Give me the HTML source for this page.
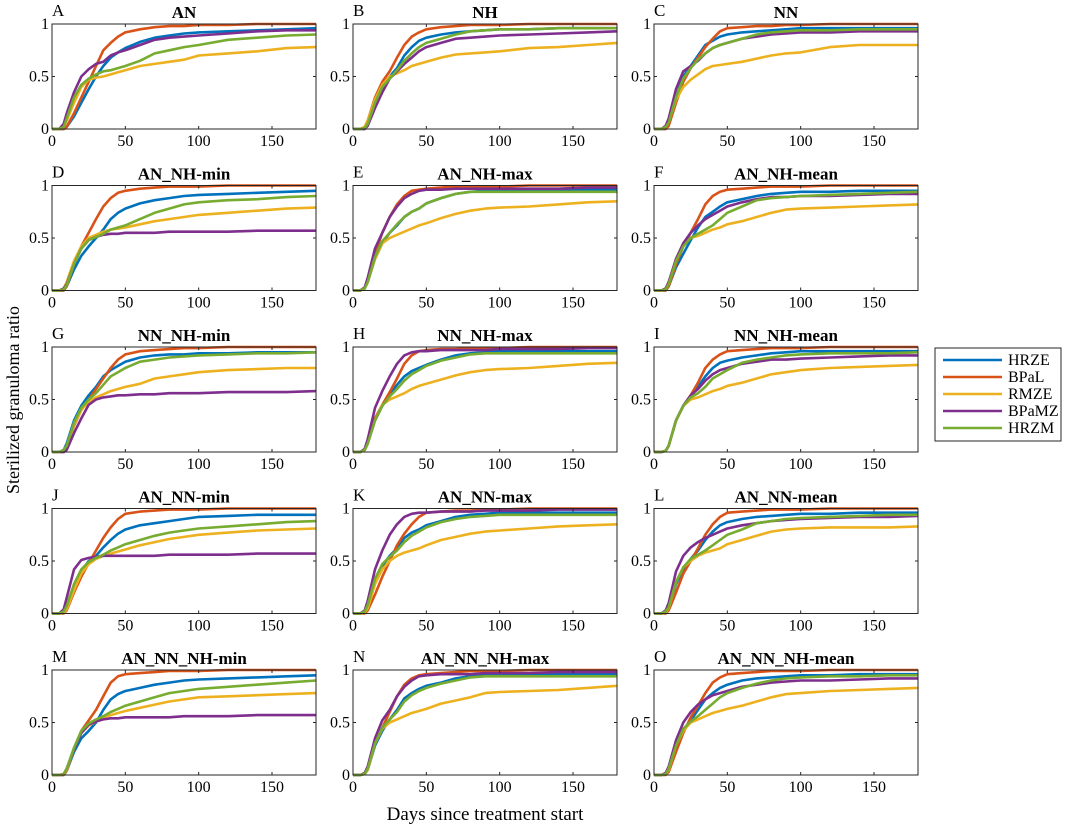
<!DOCTYPE html>
<html><head><meta charset="utf-8">
<style>
html,body{margin:0;padding:0;background:#fff;}
svg{display:block;font-family:"Liberation Serif",serif;}
</style></head>
<body>
<svg id="chart" width="1065" height="826" viewBox="0 0 1065 826" xmlns="http://www.w3.org/2000/svg">
<text x="19" y="400" font-size="18" text-anchor="middle" transform="rotate(-90 19 400)">Sterilized granuloma ratio</text>
<text x="485" y="820" font-size="19" text-anchor="middle">Days since treatment start</text>
</svg>
<script>
const days = [0,5,8,10,15,20,25,30,35,40,45,50,60,70,80,90,100,120,140,160,180];
const seriesNames = ["HRZE","BPaL","RMZE","BPaMZ","HRZM"];
const panelLetters = ["A","B","C","D","E","F","G","H","I","J","K","L","M","N","O"];
const panelTitles = ["AN","NH","NN","AN_NH-min","AN_NH-max","AN_NH-mean","NN_NH-min","NN_NH-max","NN_NH-mean","AN_NN-min","AN_NN-max","AN_NN-mean","AN_NN_NH-min","AN_NN_NH-max","AN_NN_NH-mean"];
const xTicks = [0,50,100,150];
const yTicks = [0,0.5,1];
const yTickLabels = ["0","0.5","1"];

const A_HRZE=[0,0,0,.02,.12,.25,.38,.5,.6,.68,.73,.77,.83,.87,.89,.91,.92,.93,.94,.95,.96];
const A_BPaL=[0,0,0,.02,.15,.3,.45,.6,.75,.82,.88,.92,.95,.97,.98,.98,.99,.99,1,1,1];
const A_RMZE=[0,0,.02,.08,.25,.4,.47,.49,.5,.52,.54,.56,.6,.62,.64,.66,.7,.72,.74,.77,.78];
const A_BPaMZ=[0,0,.05,.15,.35,.5,.57,.62,.64,.7,.73,.75,.8,.85,.87,.88,.89,.91,.93,.94,.94];
const A_HRZM=[0,0,.02,.1,.3,.42,.48,.52,.55,.56,.58,.6,.65,.72,.75,.78,.8,.85,.87,.89,.9];
const B_HRZE=[0,0,0,.05,.25,.4,.5,.58,.7,.78,.84,.87,.9,.92,.93,.94,.95,.95,.96,.96,.96];
const B_BPaL=[0,0,.02,.08,.3,.45,.55,.68,.8,.88,.92,.95,.97,.98,.99,.99,.99,1,1,1,1];
const B_RMZE=[0,0,.02,.08,.28,.42,.5,.53,.56,.6,.62,.64,.68,.71,.72,.73,.74,.77,.78,.8,.82];
const B_BPaMZ=[0,0,0,.03,.2,.35,.48,.55,.62,.68,.74,.78,.82,.86,.87,.88,.89,.9,.91,.92,.93];
const B_HRZM=[0,0,.01,.05,.25,.4,.48,.56,.65,.72,.78,.82,.86,.9,.93,.94,.95,.95,.96,.96,.96];
const C_HRZE=[0,0,0,.05,.3,.5,.6,.7,.8,.84,.88,.9,.92,.93,.94,.95,.96,.96,.96,.96,.96];
const C_BPaL=[0,0,0,.03,.25,.45,.58,.68,.78,.86,.93,.96,.97,.98,.98,.99,.99,1,1,1,1];
const C_RMZE=[0,0,.02,.07,.28,.4,.47,.52,.57,.6,.61,.62,.64,.67,.7,.72,.73,.78,.8,.8,.8];
const C_BPaMZ=[0,0,.03,.1,.38,.55,.6,.65,.72,.77,.8,.82,.86,.88,.9,.91,.92,.92,.93,.93,.93];
const C_HRZM=[0,0,.02,.06,.3,.48,.58,.66,.72,.77,.8,.82,.86,.9,.92,.93,.94,.94,.95,.95,.95];
const D_HRZE=[0,0,0,.04,.2,.33,.42,.5,.58,.68,.74,.78,.83,.86,.88,.9,.91,.92,.93,.94,.95];
const D_BPaL=[0,0,0,.04,.25,.42,.55,.68,.8,.88,.93,.95,.97,.98,.99,.99,.99,1,1,1,1];
const D_RMZE=[0,0,.02,.08,.28,.42,.5,.53,.56,.58,.59,.6,.63,.66,.68,.7,.72,.74,.76,.78,.79];
const D_BPaMZ=[0,0,.02,.06,.25,.4,.48,.51,.53,.54,.54,.55,.55,.55,.56,.56,.56,.56,.57,.57,.57];
const D_HRZM=[0,0,.01,.05,.25,.4,.48,.51,.54,.58,.6,.62,.68,.74,.78,.82,.84,.86,.87,.89,.9];
const E_HRZE=[0,0,.02,.08,.3,.45,.55,.62,.7,.75,.78,.83,.88,.92,.94,.95,.95,.95,.95,.96,.96];
const E_BPaL=[0,0,.02,.1,.35,.55,.7,.82,.9,.95,.96,.97,.98,.99,.99,.99,.99,1,1,1,1];
const E_RMZE=[0,0,.02,.08,.3,.45,.5,.53,.56,.59,.62,.64,.69,.73,.76,.78,.79,.8,.82,.84,.85];
const E_BPaMZ=[0,0,.03,.12,.4,.55,.7,.8,.88,.92,.95,.96,.96,.97,.97,.97,.97,.97,.97,.98,.98];
const E_HRZM=[0,0,.02,.08,.32,.47,.55,.63,.7,.75,.78,.83,.88,.92,.94,.94,.94,.94,.94,.94,.94];
const F_HRZE=[0,0,0,.04,.22,.35,.48,.6,.7,.75,.8,.84,.87,.9,.92,.93,.94,.94,.95,.95,.95];
const F_BPaL=[0,0,0,.04,.25,.42,.55,.68,.82,.9,.94,.96,.97,.98,.99,.99,.99,1,1,1,1];
const F_RMZE=[0,0,.02,.08,.3,.45,.5,.52,.55,.58,.6,.63,.66,.7,.74,.77,.78,.79,.8,.81,.82];
const F_BPaMZ=[0,0,.02,.08,.3,.45,.55,.62,.68,.72,.76,.8,.84,.87,.89,.89,.9,.9,.91,.92,.92];
const F_HRZM=[0,0,.01,.06,.28,.42,.5,.54,.58,.62,.68,.74,.8,.86,.88,.89,.9,.91,.92,.93,.94];
const G_HRZE=[0,0,.02,.08,.3,.44,.54,.62,.72,.78,.82,.86,.9,.92,.93,.93,.94,.94,.95,.95,.95];
const G_BPaL=[0,0,0,.05,.25,.4,.5,.6,.7,.8,.88,.93,.96,.97,.98,.99,.99,1,1,1,1];
const G_RMZE=[0,0,.01,.05,.26,.4,.48,.52,.55,.58,.6,.62,.65,.7,.72,.74,.76,.78,.79,.8,.8];
const G_BPaMZ=[0,0,0,.02,.18,.32,.45,.5,.52,.53,.54,.54,.55,.55,.56,.56,.56,.57,.57,.57,.58];
const G_HRZM=[0,0,.02,.06,.28,.42,.5,.56,.64,.72,.76,.8,.86,.88,.9,.91,.92,.93,.94,.94,.95];
const H_HRZE=[0,0,.02,.08,.3,.44,.55,.64,.72,.77,.8,.83,.88,.92,.94,.95,.96,.96,.96,.96,.96];
const H_BPaL=[0,0,.02,.08,.32,.45,.57,.7,.84,.92,.96,.97,.98,.98,.99,.99,.99,1,1,1,1];
const H_RMZE=[0,0,.02,.08,.3,.45,.5,.53,.56,.6,.63,.65,.69,.73,.76,.78,.79,.8,.82,.84,.85];
const H_BPaMZ=[0,0,.03,.12,.42,.58,.72,.84,.92,.95,.96,.96,.97,.97,.97,.97,.98,.98,.98,.99,.99];
const H_HRZM=[0,0,.02,.08,.3,.44,.53,.6,.68,.74,.78,.82,.87,.9,.93,.94,.94,.94,.94,.94,.94];
const I_HRZE=[0,0,.01,.06,.3,.44,.53,.62,.72,.8,.85,.87,.9,.92,.94,.95,.96,.96,.96,.96,.96];
const I_BPaL=[0,0,.01,.06,.3,.44,.54,.66,.8,.88,.93,.96,.97,.98,.99,.99,.99,1,1,1,1];
const I_RMZE=[0,0,.01,.06,.3,.44,.5,.52,.55,.58,.6,.63,.66,.7,.74,.76,.78,.8,.81,.82,.83];
const I_BPaMZ=[0,0,.01,.06,.3,.44,.54,.6,.68,.74,.78,.8,.84,.86,.88,.88,.89,.9,.91,.92,.92];
const I_HRZM=[0,0,.01,.06,.3,.44,.52,.56,.62,.7,.74,.78,.85,.88,.9,.92,.93,.94,.94,.94,.95];
const J_HRZE=[0,0,.01,.05,.25,.4,.5,.55,.63,.7,.76,.8,.84,.86,.88,.9,.92,.93,.94,.94,.94];
const J_BPaL=[0,0,0,.03,.2,.35,.48,.6,.72,.82,.9,.95,.97,.98,.99,.99,.99,1,1,1,1];
const J_RMZE=[0,0,.01,.04,.22,.38,.47,.52,.55,.57,.59,.61,.65,.68,.71,.73,.75,.77,.79,.8,.81];
const J_BPaMZ=[0,0,.04,.15,.42,.51,.53,.54,.55,.55,.55,.55,.55,.55,.56,.56,.56,.56,.57,.57,.57];
const J_HRZM=[0,0,.02,.07,.28,.42,.49,.53,.56,.6,.63,.66,.7,.74,.77,.79,.81,.83,.85,.87,.88];
const K_HRZE=[0,0,.01,.06,.3,.45,.55,.62,.72,.77,.8,.84,.88,.92,.94,.95,.96,.96,.96,.96,.96];
const K_BPaL=[0,0,0,.03,.18,.35,.5,.65,.76,.85,.92,.96,.97,.98,.98,.99,.99,1,1,1,1];
const K_RMZE=[0,0,.01,.05,.28,.42,.5,.55,.58,.6,.62,.65,.7,.73,.76,.78,.79,.81,.83,.84,.85];
const K_BPaMZ=[0,0,.03,.12,.42,.6,.75,.85,.92,.95,.96,.96,.97,.97,.97,.98,.98,.98,.99,.99,.99];
const K_HRZM=[0,0,.02,.08,.33,.47,.54,.6,.68,.74,.78,.82,.87,.9,.92,.93,.94,.94,.94,.94,.94];
const L_HRZE=[0,0,.01,.05,.28,.42,.52,.6,.7,.78,.84,.87,.9,.92,.93,.94,.95,.95,.96,.96,.96];
const L_BPaL=[0,0,0,.03,.2,.38,.5,.62,.75,.85,.92,.96,.97,.98,.99,.99,.99,1,1,1,1];
const L_RMZE=[0,0,.01,.05,.3,.44,.5,.55,.58,.6,.62,.66,.7,.74,.78,.8,.81,.82,.82,.82,.83];
const L_BPaMZ=[0,0,.03,.1,.4,.55,.63,.68,.72,.75,.78,.81,.84,.86,.88,.89,.9,.91,.92,.92,.93];
const L_HRZM=[0,0,.02,.06,.3,.44,.52,.56,.6,.65,.7,.75,.8,.86,.88,.9,.91,.92,.93,.94,.94];
const M_HRZE=[0,0,0,.04,.22,.35,.42,.5,.62,.72,.77,.8,.83,.86,.88,.9,.91,.92,.93,.94,.95];
const M_BPaL=[0,0,0,.04,.25,.42,.52,.62,.75,.88,.94,.96,.97,.98,.99,.99,.99,1,1,1,1];
const M_RMZE=[0,0,.01,.05,.25,.4,.47,.51,.55,.57,.59,.61,.64,.67,.7,.72,.74,.75,.76,.77,.78];
const M_BPaMZ=[0,0,.01,.06,.25,.4,.48,.51,.53,.54,.54,.55,.55,.55,.55,.56,.56,.56,.57,.57,.57];
const M_HRZM=[0,0,.01,.06,.26,.42,.49,.53,.56,.6,.63,.66,.7,.74,.78,.8,.82,.84,.86,.88,.9];
const N_HRZE=[0,0,.01,.05,.28,.42,.53,.62,.73,.78,.82,.85,.88,.92,.94,.95,.95,.95,.96,.96,.96];
const N_BPaL=[0,0,.01,.05,.3,.45,.6,.75,.86,.92,.95,.96,.97,.98,.99,.99,.99,1,1,1,1];
const N_RMZE=[0,0,.01,.05,.3,.44,.5,.53,.56,.59,.61,.63,.68,.71,.74,.78,.79,.8,.81,.83,.85];
const N_BPaMZ=[0,0,.02,.08,.35,.52,.62,.75,.84,.9,.94,.95,.96,.96,.96,.97,.97,.97,.98,.98,.98];
const N_HRZM=[0,0,.01,.06,.3,.45,.53,.6,.7,.76,.8,.83,.87,.9,.93,.94,.94,.94,.94,.94,.94];
const O_HRZE=[0,0,.01,.05,.28,.42,.52,.62,.72,.78,.83,.86,.9,.92,.93,.94,.95,.95,.96,.96,.96];
const O_BPaL=[0,0,0,.03,.22,.4,.55,.66,.78,.88,.93,.96,.97,.98,.99,.99,.99,1,1,1,1];
const O_RMZE=[0,0,.01,.05,.28,.42,.5,.53,.56,.59,.61,.63,.66,.7,.74,.77,.78,.8,.81,.82,.83];
const O_BPaMZ=[0,0,.02,.08,.33,.5,.6,.67,.72,.76,.78,.8,.84,.86,.88,.89,.9,.9,.91,.92,.92];
const O_HRZM=[0,0,.01,.06,.28,.44,.51,.56,.62,.68,.74,.78,.83,.87,.9,.92,.93,.94,.94,.95,.95];

const panelData = [
 [A_HRZE,A_BPaL,A_RMZE,A_BPaMZ,A_HRZM],[B_HRZE,B_BPaL,B_RMZE,B_BPaMZ,B_HRZM],[C_HRZE,C_BPaL,C_RMZE,C_BPaMZ,C_HRZM],
 [D_HRZE,D_BPaL,D_RMZE,D_BPaMZ,D_HRZM],[E_HRZE,E_BPaL,E_RMZE,E_BPaMZ,E_HRZM],[F_HRZE,F_BPaL,F_RMZE,F_BPaMZ,F_HRZM],
 [G_HRZE,G_BPaL,G_RMZE,G_BPaMZ,G_HRZM],[H_HRZE,H_BPaL,H_RMZE,H_BPaMZ,H_HRZM],[I_HRZE,I_BPaL,I_RMZE,I_BPaMZ,I_HRZM],
 [J_HRZE,J_BPaL,J_RMZE,J_BPaMZ,J_HRZM],[K_HRZE,K_BPaL,K_RMZE,K_BPaMZ,K_HRZM],[L_HRZE,L_BPaL,L_RMZE,L_BPaMZ,L_HRZM],
 [M_HRZE,M_BPaL,M_RMZE,M_BPaMZ,M_HRZM],[N_HRZE,N_BPaL,N_RMZE,N_BPaMZ,N_HRZM],[O_HRZE,O_BPaL,O_RMZE,O_BPaMZ,O_HRZM]
];

const colors = ["#0072BD","#D95319","#EDB120","#7E2F8E","#77AC30"];
const NS = "http://www.w3.org/2000/svg";
const svg = document.getElementById("chart");
const colLeft = [52,353,654], rowTop = [24,185.5,347,508.5,670], W = 264, H = 105;
const X_MAX = 180;

function mk(tag, attrs, parent){
  const e = document.createElementNS(NS, tag);
  for (const k in attrs) e.setAttribute(k, attrs[k]);
  (parent||svg).appendChild(e);
  return e;
}

panelTitles.forEach((title, p) => {
  const L = colLeft[p % 3], T = rowTop[Math.floor(p / 3)];
  const xs = v => L + v / X_MAX * W;
  const ys = v => T + H - v * H;
  const g = mk("g", {});
  
  
  panelData[p].forEach((vals, s) => {
    const pts = vals.map((v, i) => xs(days[i]).toFixed(1) + "," + ys(v).toFixed(1));
    const pl = mk("polyline", {points: pts.join(" "), fill: "none", stroke: colors[s], "stroke-width": 2.6, "stroke-linejoin": "round"}, g);
    
    
  });
  const box = mk("rect", {x: L, y: T, width: W, height: H, fill: "none", stroke: "#262626", "stroke-width": 1}, g);
  
  
  xTicks.forEach(t => {
    const x = xs(t);
    mk("line", {x1: x, y1: T + H, x2: x, y2: T + H - 3, stroke: "#262626"}, g);
    mk("line", {x1: x, y1: T, x2: x, y2: T + 3, stroke: "#262626"}, g);
    const tx = mk("text", {x: x, y: T + H + 17, "font-size": 16, "text-anchor": "middle"}, g);
    tx.textContent = t;
    
    
  });
  yTicks.forEach((t, i) => {
    const y = ys(t);
    mk("line", {x1: L, y1: y, x2: L + 3, y2: y, stroke: "#262626"}, g);
    mk("line", {x1: L + W, y1: y, x2: L + W - 3, y2: y, stroke: "#262626"}, g);
    const ty = mk("text", {x: L - 3, y: y + 5, "font-size": 16, "text-anchor": "end"}, g);
    ty.textContent = yTickLabels[i];
    
    
  });
  const tt = mk("text", {x: L + W / 2, y: T - 6, "font-size": 17, "font-weight": "bold", "text-anchor": "middle"}, g);
  tt.textContent = title;
  
  
  const lt = mk("text", {x: L, y: T - 8, "font-size": 17}, g);
  lt.textContent = panelLetters[p];
  
  
});

const lg = mk("g", {});


mk("rect", {x: 935, y: 348, width: 126, height: 93, fill: "#fff", stroke: "#262626"}, lg);
seriesNames.forEach((n, i) => {
  const y = 360 + i * 17;
  const e = mk("g", {}, lg);
  
  
  mk("line", {x1: 943, y1: y, x2: 1002, y2: y, stroke: colors[i], "stroke-width": 2.6}, e);
  const t = mk("text", {x: 1008, y: y + 5, "font-size": 16}, e);
  t.textContent = n;
});
</script>
</body></html>
